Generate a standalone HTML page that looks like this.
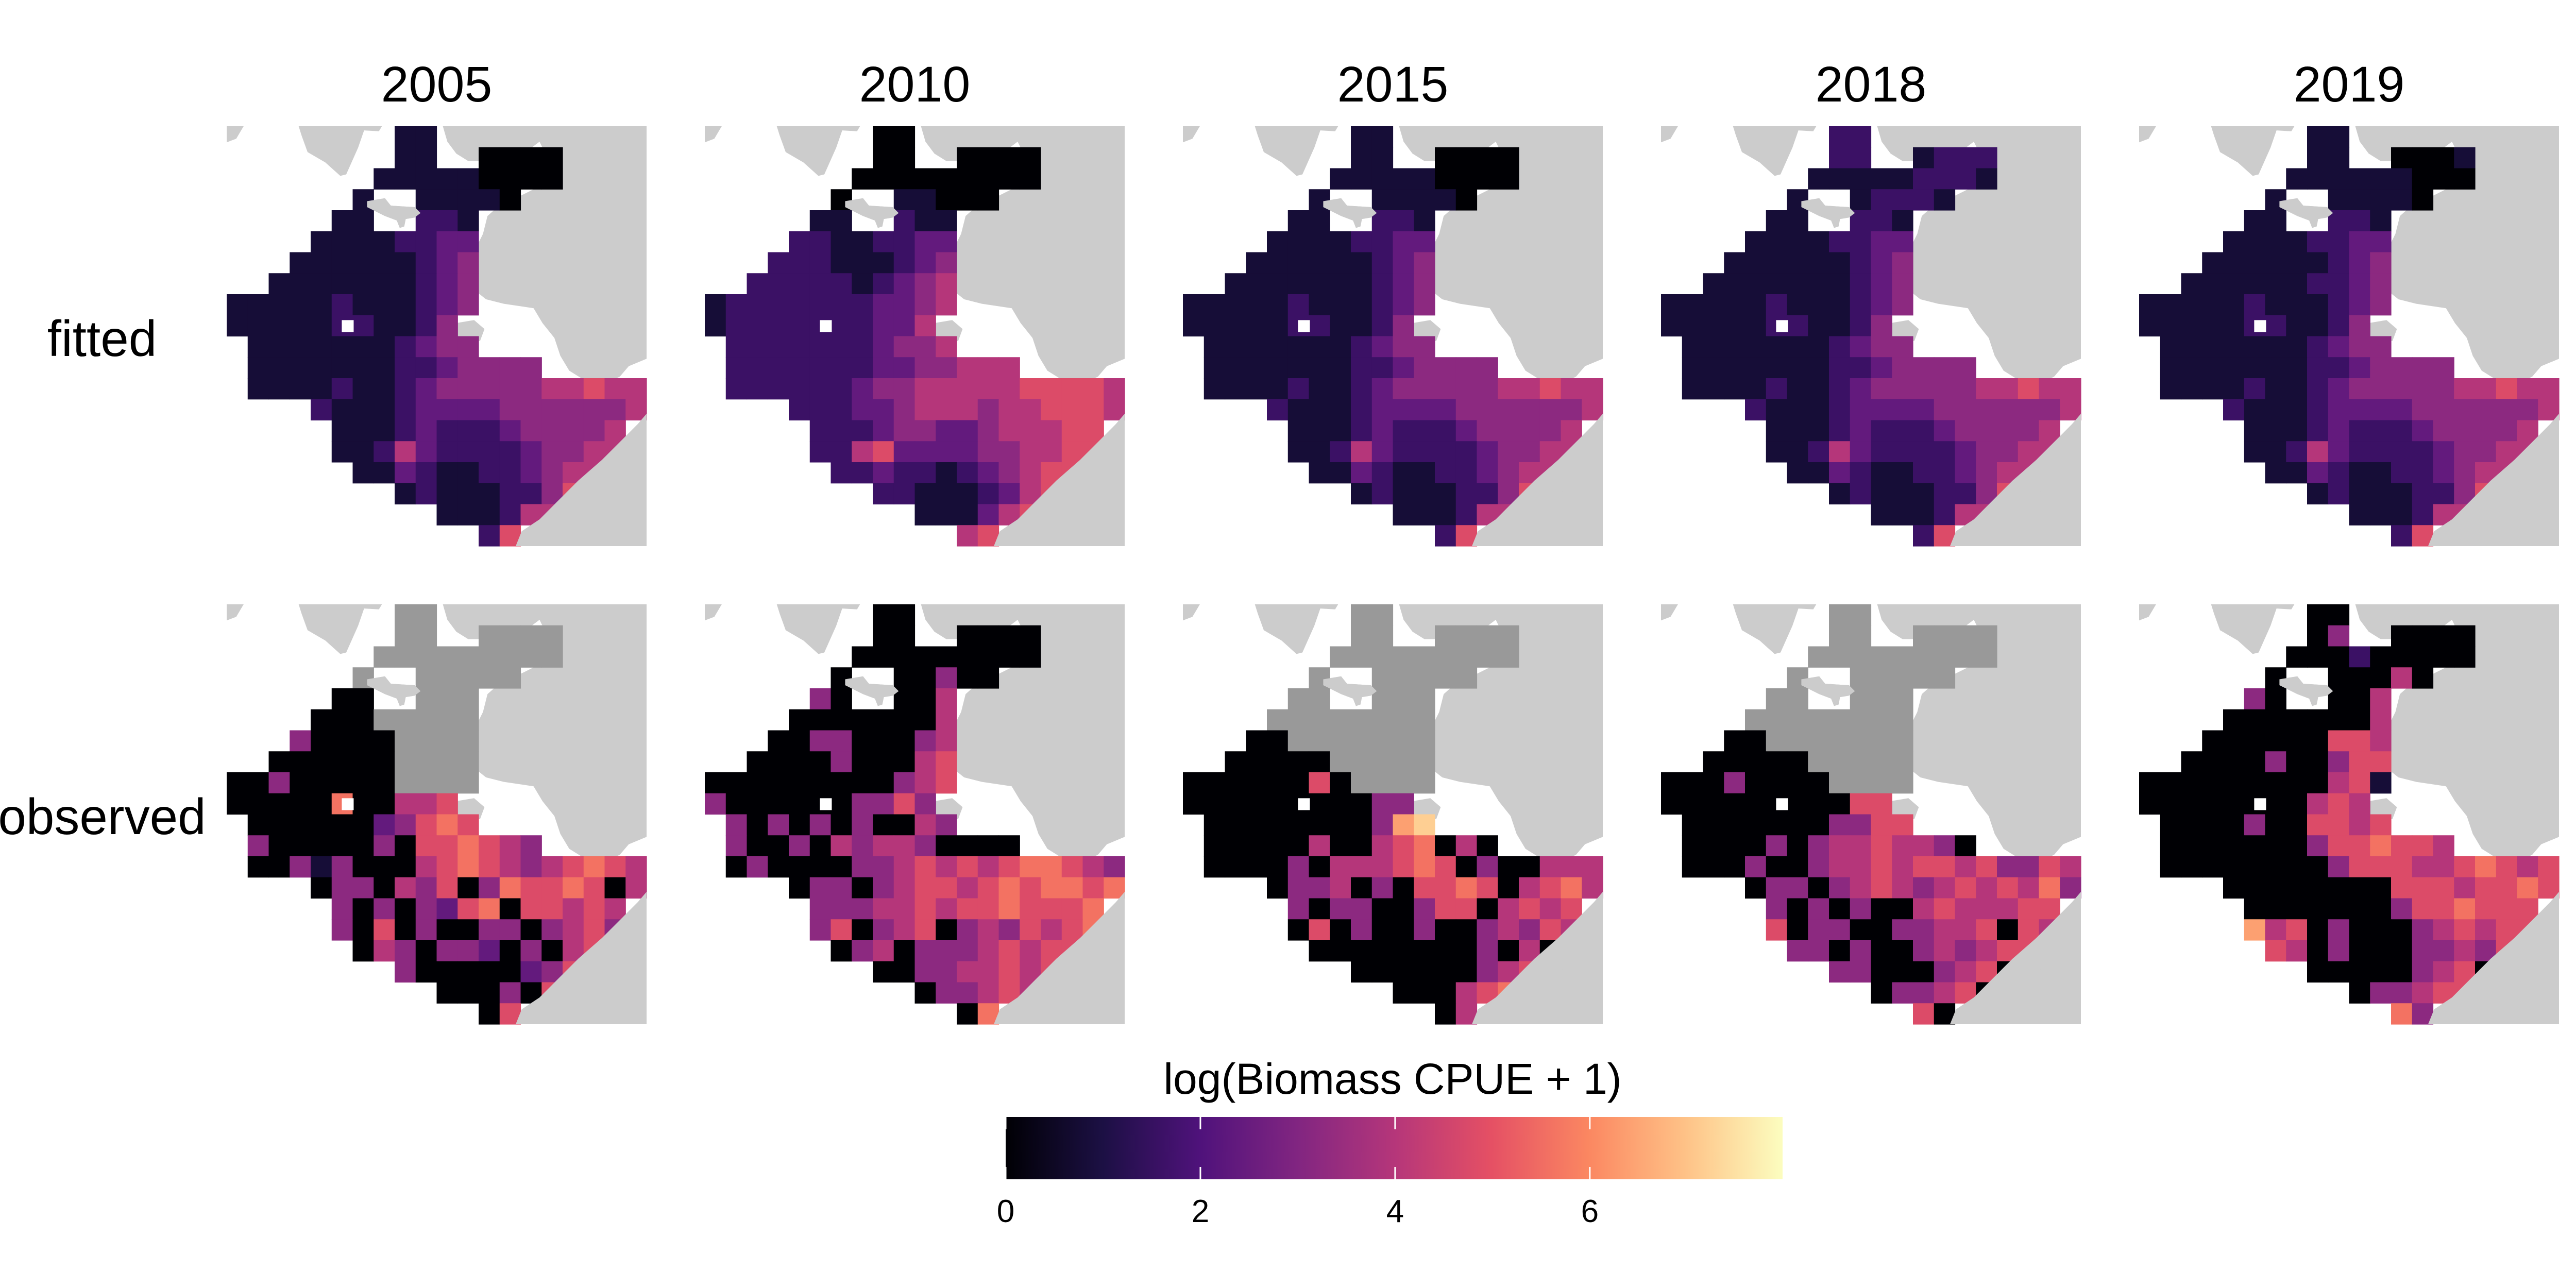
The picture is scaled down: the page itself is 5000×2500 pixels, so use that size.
<!DOCTYPE html>
<html><head><meta charset="utf-8"><title>Biomass CPUE maps</title>
<style>
html,body{margin:0;padding:0;background:#fff;}
svg{display:block;}
text{font-family:"Liberation Sans",Arial,sans-serif;fill:#000;}
</style></head>
<body>
<svg id="chart" width="5000" height="2500" viewBox="0 0 5000 2500" xmlns="http://www.w3.org/2000/svg">
<rect x="0" y="0" width="5000" height="2500" fill="#ffffff"/>
<g id="panels"></g>
<g id="labels"></g>
<g id="legend"></g>
</svg>
<script>
// ---- data ----
const years = ["2005","2010","2015","2018","2019"];
const rowLabels = ["fitted","observed"];
const legendTicks = [0,2,4,6];
const legendMax = 7.98;
const cellUnit = 0.8; // value per digit code
// grid codes: '.' no cell, 'g' not sampled, digit d => value d*0.8
const fitted2005 = [
"........11..........","........11..0000....",".......111110000....","......1..11110......",
".....11..221........","....11112233........","...111111234........","..1111111234........",
"111112111234........","11111221124.........",".11111112344........",".11111112234444.....",
".1111211234444455655","....2111233334444445",".....11123222344445.",".....11253222234455.",
"......113211223455..","........121112246...","..........111255....","............26......"];
const fitted2010 = [
"........00..........","........00..0000....",".......000000000....","......0..11000......",
".....11..211........","....22112233........","...222111234........","..2222212345........",
"122222223345........","12222222335.........",".22222223445........",".22222223344555.....",
".2222223445555566665","....2223345554556665",".....22234433455566.",".....22563333445566.",
"......223221234566..","........221112356...","..........111356....","............56......"];
const fitted2015 = [
"........11..........","........11..0000....",".......111110000....","......1..11110......",
".....11..221........","....11112233........","...111111234........","..1111111234........",
"111112111234........","11111221124.........",".11111112344........",".11111112234444.....",
".1111211234444455655","....2111233334444445",".....11123222344445.",".....11253222234455.",
"......113211223455..","........121112246...","..........111255....","............26......"];
const fitted2018 = [
"........22..........","........22..1222....",".......111112221....","......1..12221......",
".....11..221........","....11112233........","...111111234........","..1111111234........",
"111112111234........","11111221124.........",".11111112344........",".11111112234444.....",
".1111211234444455655","....2111233334444445",".....11123222344445.",".....11253222234455.",
"......113211223455..","........121112246...","..........111255....","............26......"];
const fitted2019 = [
"........11..........","........11..0001....",".......111111000....","......1..11110......",
".....11..221........","....11112233........","...111111234........","..1111112234........",
"111112111234........","11111221124.........",".11111112344........",".11111112234444.....",
".1111211234444455655","....2111233334444445",".....11123222344445.",".....11253222234455.",
"......113211223455..","........121112246...","..........111255....","............26......"];
const observed2005 = [
"........gg..........","........gg..gggg....",".......ggggggggg....","......g..ggggg......",
".....00..ggg........","....000ggggg........","...40000gggg........","..000000gggg........",
"00400000gggg........","00000700556.........",".00000034676........",".40000040667654.....",
".0041400056765456765","....0440546047667605",".....40404367066565.",".....40604004404564.",
"......054044304056..","........400000346...","..........000406....","............06......"];
const observed2010 = [
"........00..........","........00..0000....",".......000000000....","......0..00400......",
".....40..005........","....00000005........","...004400045........","..0000400056........",
"000000000456........","40000004464.........",".40404040054........",".40040545540000.....",
".0400004456565677654","....0440456656767767",".....44455656676667.",".....46045604546567.",
"......045044456566..","........004455656...","..........044565....","............07......"];
const observed2015 = [
"........gg..........","........gg..gggg....",".......ggggggggg....","......g..ggggg......",
".....gg..ggg........","....gggggggg........","...00ggggggg........","..00000ggggg........",
"00000060gggg........","00000000044.........",".00000000489........",".00000500567050.....",
".0000405556760400555","....0445040667605675",".....40440046605656.",".....06040040045465.",
"......000000004050..","........000000456...","..........000567....","............05......"];
const observed2018 = [
"........gg..........","........gg..gggg....",".......ggggggggg....","......g..ggggg......",
".....gg..ggg........","....gggggggg........","...00ggggggg........","..00000ggggg........",
"00040000gggg........","00000000066.........",".00000004466........",".00004045565540.....",
".0004004556566564465","....0440456545656574",".....40404005655566.",".....60440044556065.",
"......440400454566..","........440004560...","..........044560....","............60......"];
const observed2019 = [
"........00..........","........04..0000....",".......000200000....","......0..00050......",
".....40..005........","....00000005........","...000000665........","..0000400466........",
"000000000561........","00000000565.........",".00004006656........",".00000004667665.....",
".0000000046665567656","....0000000066656676",".....00000004667666.",".....85604000456566.",
"......650400044546..","........000004560...","..........044566....","............74......"];

const fittedGrids = [fitted2005, fitted2010, fitted2015, fitted2018, fitted2019];
const observedGrids = [observed2005, observed2010, observed2015, observed2018, observed2019];

// ---- geometry (layout) ----
const panelX = [440,1368,2296,3224,4152];
const panelY = [245,1173];
const P = 815, N = 20, C = P/N;
const landShapes = [
 [[68,78],[125,78],[100,120],[68,132]],
 [[310,78],[590,78],[580,95],[530,92],[510,150],[470,240],[450,245],[400,200],[340,165],[320,110]],
 [[795,78],[1480,78],[1480,860],[1420,885],[1390,920],[1340,945],[1260,925],[1220,900],[1190,850],[1170,790],[1130,740],[1100,690],[1000,675],[940,660],[890,620],[880,560],[900,500],[930,440],[945,380],[990,340],[1060,310],[1120,280],[1160,250],[1145,180],[1120,130],[1060,175],[1010,185],[940,195],[880,195],[840,170],[810,130]],
 [[540,330],[600,320],[620,345],[700,350],[720,370],[700,385],[670,390],[665,415],[650,420],[640,395],[600,380],[560,360],[540,350]],
 [[810,770],[840,740],[900,730],[935,760],[920,800],[860,805],[820,790]]
];
const peninsula = [[1480,1045],[1480,1490],[1040,1490],[1060,1440],[1120,1400],[1180,1340],[1250,1270],[1330,1200],[1400,1130],[1450,1080]];
const islets = [[1250,1330,18],[1300,1380,14],[1350,1320,16],[1400,1390,12],[1440,1350,14],[1210,1460,12],[1330,1440,10]];

const magmaStops = ["#000004","#1c1044","#4f127b","#812581","#b5367a","#e55064","#fb8761","#fec287","#fcfdbf"];
function hex(h){return [parseInt(h.substr(1,2),16),parseInt(h.substr(3,2),16),parseInt(h.substr(5,2),16)];}
function magma(t){
  t=Math.max(0,Math.min(1,t));
  const s=t*(magmaStops.length-1), i=Math.min(Math.floor(s),magmaStops.length-2), f=s-i;
  const a=hex(magmaStops[i]), b=hex(magmaStops[i+1]);
  return "rgb("+a.map((v,k)=>Math.round(v+(b[k]-v)*f)).join(",")+")";
}
function colorScale(v){return magma(v/legendMax);}

const NS="http://www.w3.org/2000/svg";
function mk(tag, attrs, parent){
  const e=document.createElementNS(NS,tag);
  for(const k in attrs) e.setAttribute(k,attrs[k]);
  parent.appendChild(e); return e;
}
function tx(x0,zx){return x0+(zx-68)/1412*P;}
function ty(y0,zy){return y0+(zy-78)/1412*P;}
function poly(x0,y0,pts){return pts.map(p=>tx(x0,p[0]).toFixed(1)+","+ty(y0,p[1]).toFixed(1)).join(" ");}

const panels=document.getElementById("panels");
function drawPanel(x0,y0,grid,name){
  const g=mk("g",{},panels);
  
  
  landShapes.forEach((s,i)=>{
    const p=mk("polygon",{points:poly(x0,y0,s),fill:"#cccccc"},g);
    
    
  });
  for(let r=0;r<N;r++){
    const row=grid[r];
    for(let c=0;c<N;c++){
      const ch=row[c];
      if(ch==="."||ch===undefined) continue;
      const fill = ch==="g" ? "#999999" : colorScale(parseInt(ch)*cellUnit);
      const rc=mk("rect",{x:(x0+c*C).toFixed(2),y:(y0+r*C).toFixed(2),width:(C+0.6).toFixed(2),height:(C+0.6).toFixed(2),fill:fill},g);
      
      
    }
  }
  const sl=mk("polygon",{points:poly(x0,y0,landShapes[3]),fill:"#cccccc"},g);
  
  
  const hole=mk("rect",{x:tx(x0,455),y:ty(y0,730),width:40/1412*P,height:40/1412*P,fill:"#ffffff"},g);
  
  
  const pen=mk("polygon",{points:poly(x0,y0,peninsula),fill:"#cccccc"},g);
  
  
  islets.forEach(q=>{
    const ci=mk("circle",{cx:tx(x0,q[0]),cy:ty(y0,q[1]),r:q[2]/1412*P,fill:"#cccccc"},g);
    
    
  });
}
years.forEach((y,i)=>{
  drawPanel(panelX[i],panelY[0],fittedGrids[i],"fitted-map-"+y);
  drawPanel(panelX[i],panelY[1],observedGrids[i],"observed-map-"+y);
});

const labels=document.getElementById("labels");
years.forEach((y,i)=>{
  const t=mk("text",{x:panelX[i]+P/2,y:197,"font-size":97,"text-anchor":"middle"},labels);
  t.textContent=y;
  
  
});
const rowY=[656,1584];
rowLabels.forEach((l,i)=>{
  const t=mk("text",{x:198,y:rowY[i]+35,"font-size":98,"text-anchor":"middle"},labels);
  t.textContent=l;
  
  
});

// legend
const legend=document.getElementById("legend");
const LX0=1952, LX1=3460, LY0=2168, LY1=2289;
function lx(v){return LX0+(LX1-LX0)*v/legendMax;}
const defs=mk("defs",{},legend);
const grad=mk("linearGradient",{id:"mg",x1:"0",x2:"1",y1:"0",y2:"0"},defs);
for(let i=0;i<=16;i++){
  mk("stop",{offset:(i/16),"stop-color":magma(i/16)},grad);
}
const bar=mk("rect",{x:LX0,y:LY0,width:LX1-LX0,height:LY1-LY0,fill:"url(#mg)"},legend);


const lt=mk("text",{x:2703,y:2123,"font-size":84,"text-anchor":"middle"},legend);
lt.textContent="log(Biomass CPUE + 1)";


legendTicks.forEach(v=>{
  const x=lx(v);
  const a=mk("line",{x1:x,x2:x,y1:LY0,y2:LY0+24,stroke:"#fff","stroke-width":3},legend);
  
  
  const b=mk("line",{x1:x,x2:x,y1:LY1-24,y2:LY1,stroke:"#fff","stroke-width":3},legend);
  
  
  const t=mk("text",{x:x,y:2372,"font-size":62,"text-anchor":"middle"},legend);
  t.textContent=String(v);
  
  
});
</script>
</body></html>
